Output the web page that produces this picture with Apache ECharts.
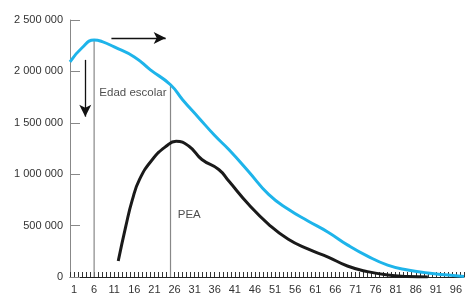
<!DOCTYPE html>
<html>
<head>
<meta charset="utf-8">
<script src="https://cdn.jsdelivr.net/npm/echarts@6/dist/echarts.min.js"></script>
<style>
html,body{margin:0;padding:0;background:#fff;}
#main{width:467px;height:295px;}
</style>
</head>
<body>
<div id="main"></div>
<script>
// edad (años) y población
var agesTotal = [0, 3, 6, 8, 11, 16, 20, 25, 28, 32, 36, 39.5, 44.4, 49.4, 54.3, 59.3, 64.2, 69.1, 74, 79, 84, 89, 94, 98];
var poblacionTotal = [2093000, 2230000, 2306000, 2290000, 2238000, 2141000, 2015000, 1870000, 1725000, 1550000, 1376000, 1240000, 1027000, 804000, 659000, 543000, 436000, 310000, 203000, 116000, 68000, 39000, 19000, 5000];
var agesPEA = [12, 13.9, 15.5, 17.3, 20.5, 23.9, 26.4, 29.6, 32.8, 37, 39.5, 44.4, 49.4, 54.3, 59.3, 64.2, 69, 74, 79, 84, 89];
var poblacionPEA = [155000, 497000, 750000, 950000, 1143000, 1272000, 1321000, 1272000, 1143000, 1046000, 933000, 707000, 513000, 368000, 271000, 194000, 107000, 52000, 19000, 5000, 0];
var yTicks = [0, 500000, 1000000, 1500000, 2000000, 2500000];

var total = agesTotal.map(function (a, i) { return [a, poblacionTotal[i]]; });
var pea = agesPEA.map(function (a, i) { return [a, poblacionPEA[i]]; });

function fmt(v) {
    return String(v).replace(/\B(?=(\d{3})+(?!\d))/g, ' ');
}

var myChart = echarts.init(document.getElementById('main'));
var option = {
    animation: false,
    textStyle: { fontFamily: 'Liberation Sans' },
    grid: { left: 70, right: 0, top: 20, bottom: 17 },
    xAxis: {
        type: 'value',
        min: 0,
        max: 98,
        interval: 1,
        splitLine: { show: false },
        axisLine: { lineStyle: { color: '#222', width: 1 } },
        axisTick: { inside: true, length: 5, lineStyle: { color: '#333' } },
        axisLabel: {
            color: '#333',
            fontSize: 11,
            margin: 7,
            formatter: function (v) { return (v - 1) % 5 === 0 ? String(v) : ''; }
        }
    },
    yAxis: {
        type: 'value',
        min: yTicks[0],
        max: yTicks[yTicks.length - 1],
        interval: 500000,
        splitLine: { show: false },
        axisLine: { show: true, lineStyle: { color: '#888' } },
        axisTick: { show: true, inside: true, length: 10, lineStyle: { color: '#888' } },
        axisLabel: { color: '#333', fontSize: 11, margin: 7, formatter: fmt }
    },
    series: [
        {
            type: 'line',
            data: [[6, 0], [6, 2306000]],
            symbol: 'none',
            lineStyle: { color: '#888', width: 1.2 },
            silent: true
        },
        {
            type: 'line',
            data: [[25, 0], [25, 1870000]],
            symbol: 'none',
            lineStyle: { color: '#888', width: 1.2 },
            silent: true
        },
        {
            name: 'Total',
            type: 'line',
            data: total,
            smooth: true,
            symbol: 'none',
            lineStyle: { color: '#1eb4ea', width: 3 },
            z: 5,
            markLine: {
                silent: true,
                symbol: ['none', 'arrow'],
                symbolSize: [9, 12],
                label: { show: false },
                lineStyle: { color: '#111', width: 1.3, type: 'solid' },
                data: [
                    [{ coord: [10.3, 2326000] }, { coord: [23.8, 2326000] }],
                    [{ coord: [3.8, 2112000] }, { coord: [3.8, 1560000] }]
                ]
            }
        },
        {
            name: 'PEA',
            type: 'line',
            data: pea,
            smooth: true,
            symbol: 'none',
            lineStyle: { color: '#1a1a1a', width: 3 },
            z: 4
        },
        {
            type: 'scatter',
            symbolSize: 0,
            data: [
                { value: [7.3, 1793000], label: { formatter: 'Edad escolar' } },
                { value: [26.8, 600000], label: { formatter: 'PEA' } }
            ],
            label: { show: true, position: 'right', distance: 0, color: '#222', fontSize: 11.5 },
            silent: true
        }
    ]
};
myChart.setOption(option);
</script>
</body>
</html>
